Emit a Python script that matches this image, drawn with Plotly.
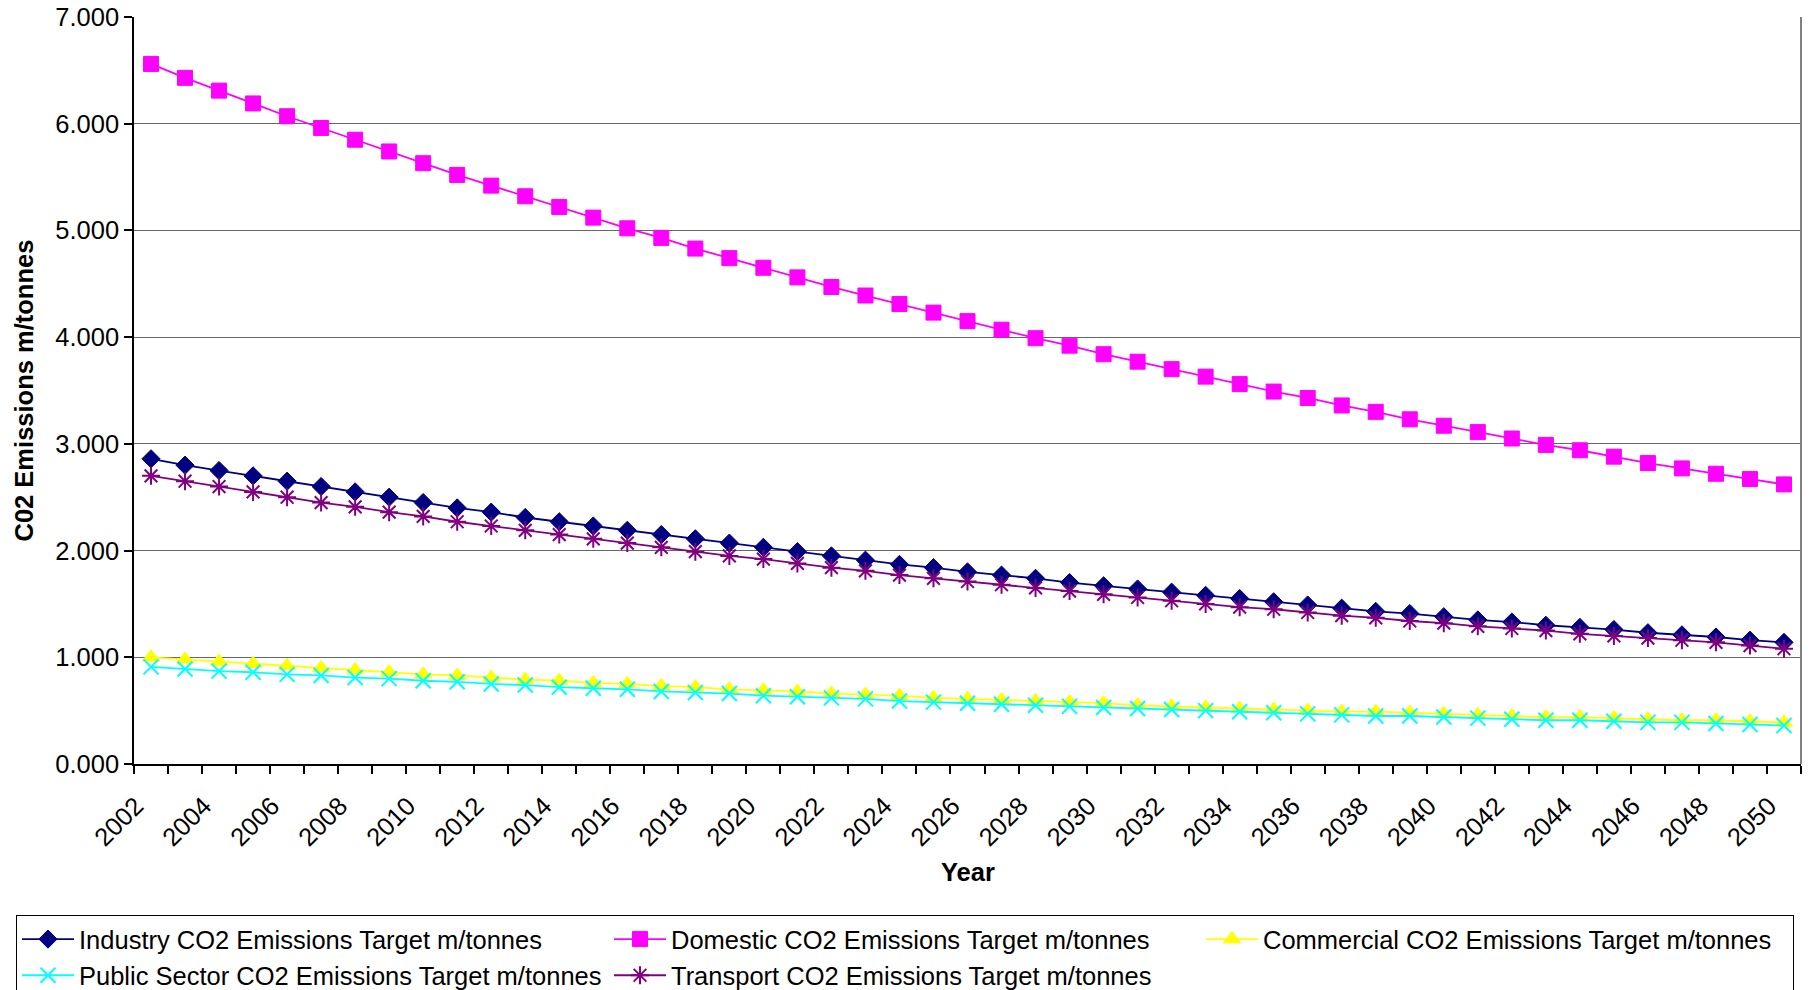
import plotly.graph_objects as go

years = list(range(2002, 2051))

industry = [2.86, 2.80, 2.75, 2.70, 2.65, 2.60, 2.55, 2.50, 2.45, 2.40,
            2.36, 2.31, 2.27, 2.23, 2.19, 2.15, 2.11, 2.07, 2.03, 1.99,
            1.95, 1.91, 1.87, 1.84, 1.80, 1.77, 1.74, 1.70, 1.67, 1.64,
            1.61, 1.58, 1.55, 1.52, 1.49, 1.46, 1.43, 1.41, 1.38, 1.35,
            1.33, 1.30, 1.28, 1.26, 1.23, 1.21, 1.19, 1.16, 1.14]

domestic = [6.56, 6.43, 6.31, 6.19, 6.07, 5.96, 5.85, 5.74, 5.63, 5.52,
            5.42, 5.32, 5.22, 5.12, 5.02, 4.93, 4.83, 4.74, 4.65, 4.56,
            4.47, 4.39, 4.31, 4.23, 4.15, 4.07, 3.99, 3.92, 3.84, 3.77,
            3.70, 3.63, 3.56, 3.49, 3.43, 3.36, 3.30, 3.23, 3.17, 3.11,
            3.05, 2.99, 2.94, 2.88, 2.82, 2.77, 2.72, 2.67, 2.62]

commercial = [1.00, 0.98, 0.96, 0.94, 0.92, 0.90, 0.88, 0.86, 0.84, 0.83,
              0.81, 0.79, 0.78, 0.76, 0.75, 0.73, 0.72, 0.70, 0.69, 0.68,
              0.66, 0.65, 0.64, 0.62, 0.61, 0.60, 0.59, 0.58, 0.57, 0.55,
              0.54, 0.53, 0.52, 0.51, 0.50, 0.49, 0.49, 0.48, 0.47, 0.46,
              0.45, 0.44, 0.44, 0.43, 0.42, 0.41, 0.41, 0.40, 0.39]

public_sector = [0.91, 0.89, 0.87, 0.86, 0.84, 0.83, 0.81, 0.80, 0.78, 0.77,
                 0.75, 0.74, 0.72, 0.71, 0.70, 0.68, 0.67, 0.66, 0.64, 0.63,
                 0.62, 0.61, 0.59, 0.58, 0.57, 0.56, 0.55, 0.54, 0.53, 0.52,
                 0.51, 0.50, 0.49, 0.48, 0.47, 0.46, 0.45, 0.45, 0.44, 0.43,
                 0.42, 0.41, 0.41, 0.40, 0.39, 0.39, 0.38, 0.37, 0.36]

transport = [2.70, 2.65, 2.60, 2.55, 2.50, 2.45, 2.41, 2.36, 2.32, 2.27,
             2.23, 2.19, 2.15, 2.11, 2.07, 2.03, 1.99, 1.95, 1.92, 1.88,
             1.84, 1.81, 1.77, 1.74, 1.71, 1.68, 1.65, 1.62, 1.59, 1.56,
             1.53, 1.50, 1.47, 1.45, 1.42, 1.39, 1.37, 1.34, 1.32, 1.29,
             1.27, 1.25, 1.22, 1.20, 1.18, 1.16, 1.14, 1.11, 1.08]

tick_years = years[::2]
tick_labels = [str(y) for y in tick_years]

series = [
    ("Industry CO2 Emissions Target m/tonnes", industry, "#000080", "diamond", 14, False),
    ("Domestic CO2 Emissions Target m/tonnes", domestic, "#FF00FF", "square", 15, False),
    ("Commercial CO2 Emissions Target m/tonnes", commercial, "#FFFF00", "triangle-up", 15, False),
    ("Public Sector CO2 Emissions Target m/tonnes", public_sector, "#00FFFF", "x-thin-open", 15, True),
    ("Transport CO2 Emissions Target m/tonnes", transport, "#800080", "asterisk-open", 15, True),
]

FONT = "Liberation Sans, Arial, sans-serif"
FS = 25.5

fig = go.Figure()
for name, vals, color, sym, size, open_sym in series:
    marker = dict(symbol=sym, size=size, color=color)
    marker["line"] = dict(color=color, width=2 if open_sym else 1)
    fig.add_trace(go.Scatter(
        x=years, y=vals, name=name, mode="lines+markers",
        line=dict(color=color, width=1.8), marker=marker,
    ))

W, H = 1811, 990
L, R, T, B = 134, 10, 17, 226
PW, PH = W - L - R, H - T - B

boundaries = [y - 0.5 for y in years] + [years[-1] + 0.5]
pad = "\u00a0\u00a0\u00a0"

fig.update_layout(
    width=W, height=H,
    margin=dict(l=L, r=R, t=T, b=B, autoexpand=False),
    paper_bgcolor="white", plot_bgcolor="white",
    font=dict(family=FONT, size=FS, color="black"),
    showlegend=True,
    legend=dict(
        orientation="h",
        x=(16 - L) / PW, xanchor="left",
        y=(764 - 915) / PH, yanchor="top",
        bordercolor="black", borderwidth=1,
        font=dict(family=FONT, size=FS, color="black"),
        itemwidth=52,
        entrywidth=525, entrywidthmode="pixels",
        bgcolor="white",
    ),
    xaxis=dict(
        range=[years[0] - 0.5, years[-1] + 0.5],
        tickmode="array", tickvals=tick_years, ticktext=[t + pad for t in tick_labels],
        tickangle=-45, ticks="", showgrid=False, zeroline=False,
        showline=True, linecolor="black", linewidth=1.5,
        tickfont=dict(family=FONT, size=FS, color="black"),
        minor=dict(tickmode="array", tickvals=boundaries, ticks="outside",
                   ticklen=8, tickcolor="black", tickwidth=1.5, showgrid=False),
    ),
    yaxis=dict(
        range=[0, 7], tickmode="linear", tick0=0, dtick=1, tickformat=".3f",
        showgrid=True, gridcolor="#666666", gridwidth=1.2,
        zeroline=False, showline=True, linecolor="black", linewidth=1.5,
        ticks="outside", ticklen=8, tickcolor="black", tickwidth=1.5,
        tickfont=dict(family=FONT, size=FS, color="black"),
    ),
    shapes=[dict(type="line", xref="paper", yref="paper", x0=1, x1=1, y0=0, y1=1,
                 line=dict(color="#808080", width=2))],
    annotations=[
        dict(text="<b>C02 Emissions m/tonnes</b>", xref="paper", yref="paper",
             x=(23 - L) / PW, y=0.5, xanchor="center", yanchor="middle",
             textangle=-90, showarrow=False, font=dict(family=FONT, size=FS, color="black")),
        dict(text="<b>Year</b>", xref="paper", yref="paper",
             x=0.5, y=(764 - 872) / PH, xanchor="center", yanchor="middle",
             showarrow=False, font=dict(family=FONT, size=FS, color="black")),
    ],
)

fig.write_html("out.html")
